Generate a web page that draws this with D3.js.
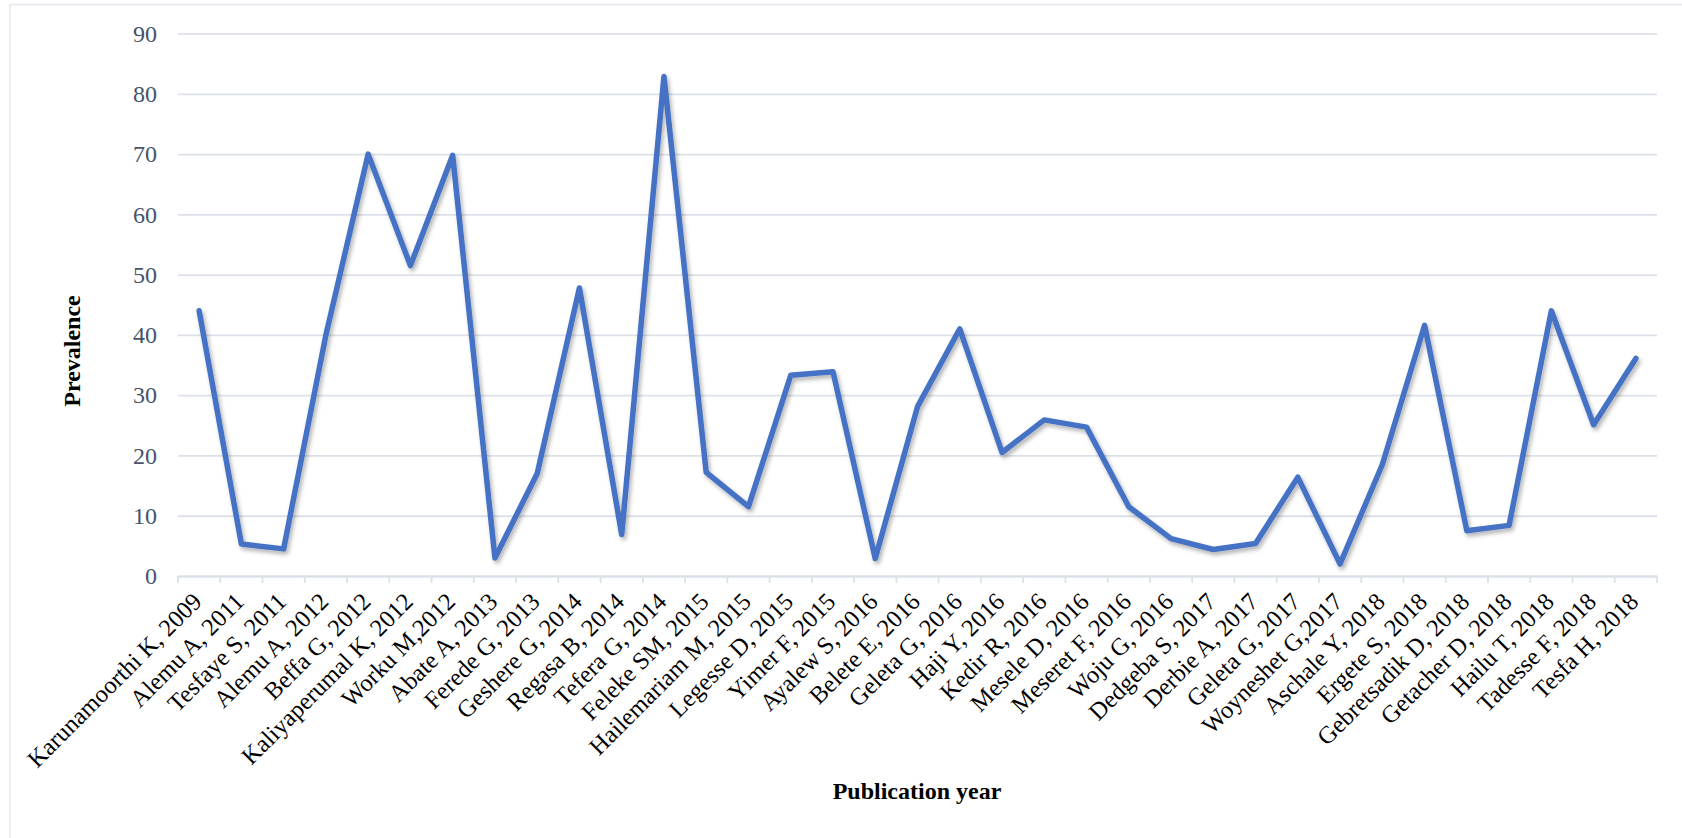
<!DOCTYPE html>
<html>
<head>
<meta charset="utf-8">
<script src="https://cdn.jsdelivr.net/npm/d3@7"></script>
<style>
  html, body { margin: 0; padding: 0; background: #fff; }
  svg { display: block; }
</style>
</head>
<body>
<div id="chart"></div>
<script>
const studies = [
  'Karunamoorthi K, 2009', 'Alemu A, 2011', 'Tesfaye S, 2011', 'Alemu A, 2012',
  'Beffa G, 2012', 'Kaliyaperumal K, 2012', 'Worku M,2012', 'Abate A, 2013',
  'Ferede G, 2013', 'Geshere G, 2014', 'Regasa B, 2014', 'Tefera G, 2014',
  'Feleke SM, 2015', 'Hailemariam M, 2015', 'Legesse D, 2015', 'Yimer F, 2015',
  'Ayalew S, 2016', 'Belete E, 2016', 'Geleta G, 2016', 'Haji Y, 2016',
  'Kedir R, 2016', 'Mesele D, 2016', 'Meseret F, 2016', 'Woju G, 2016',
  'Dedgeba S, 2017', 'Derbie A, 2017', 'Geleta G, 2017', 'Woyneshet G,2017',
  'Aschale Y, 2018', 'Ergete S, 2018', 'Gebretsadik D, 2018', 'Getacher D, 2018',
  'Hailu T, 2018', 'Tadesse F, 2018', 'Tesfa H, 2018',
];

const prevalence = [
  44.0, 5.3, 4.5, 40.0, 70.0, 51.5, 69.8, 3.0, 17.0, 47.8, 6.9, 82.9,
  17.2, 11.5, 33.3, 33.9, 2.9, 28.1, 41.0, 20.5, 25.9, 24.7, 11.5, 6.2,
  4.4, 5.4, 16.4, 2.0, 18.5, 41.6, 7.5, 8.4, 44.0, 25.1, 36.1,
];

const yTicks = [0, 10, 20, 30, 40, 50, 60, 70, 80, 90];

const width = 1682;
const height = 838;
const margin = { top: 33.6, bottom: 262, left: 178, right: 25 };

const BlueLine = '#4472C4';
const GridGray = '#DCE1E9';
const AxisText = '#44546A';
const serif = "'Liberation Serif', 'Times New Roman', serif";

const data = studies.map((s, i) => ({ study: s, value: prevalence[i] }));

const svg = d3
  .select('#chart')
  .append('svg')
  .attr('width', width)
  .attr('height', height);

// chart area border (runs off the right and bottom edges in the original)
svg
  .append('rect')
  .attr('x', 10)
  .attr('y', 4.5)
  .attr('width', width + 20)
  .attr('height', height + 20)
  .attr('fill', 'none')
  .attr('stroke', '#E3E7EE')
  .attr('stroke-width', 1.5);

const defs = svg.append('defs');
defs
  .append('filter')
  .attr('id', 'shadow')
  .attr('x', '-5%')
  .attr('y', '-5%')
  .attr('width', '110%')
  .attr('height', '110%')
  .append('feDropShadow')
  .attr('dx', 2)
  .attr('dy', 3)
  .attr('stdDeviation', 2)
  .attr('flood-color', '#000')
  .attr('flood-opacity', 0.3);

const xScale = d3
  .scaleBand()
  .domain(studies)
  .range([margin.left, width - margin.right])
  .padding(0);

const yScale = d3
  .scaleLinear()
  .domain([0, 90])
  .range([height - margin.bottom, margin.top]);

// gridlines + y tick labels
const yAxis = svg
  .append('g')
  .attr('transform', `translate(${margin.left},0)`)
  .call(
    d3
      .axisLeft(yScale)
      .tickValues(yTicks)
      .tickSize(-(width - margin.left - margin.right))
      .tickPadding(21)
  );
yAxis.select('.domain').remove();
yAxis
  .selectAll('line')
  .attr('stroke', GridGray)
  .attr('stroke-width', 1.8);
yAxis
  .selectAll('text')
  .attr('fill', AxisText)
  .style('font-family', serif)
  .style('font-size', '24px');

// x axis: labels at centres, ticks at category boundaries
const x0 = yScale(0);
const xAxis = svg
  .append('g')
  .attr('transform', `translate(0,${x0})`)
  .call(d3.axisBottom(xScale).tickSize(0).tickSizeOuter(0));
xAxis.select('.domain').attr('stroke', GridGray).attr('stroke-width', 1.8);
xAxis
  .selectAll('text')
  .attr('fill', '#000')
  .style('font-family', serif)
  .style('font-size', '24.5px')
  .attr('text-anchor', 'end')
  .attr('y', 0)
  .attr('dy', 0)
  .attr('transform', 'translate(4,27) rotate(-45)');

const bounds = studies.map((s) => xScale(s)).concat([xScale.range()[1]]);
svg
  .append('g')
  .selectAll('line')
  .data(bounds)
  .join('line')
  .attr('x1', (d) => d)
  .attr('x2', (d) => d)
  .attr('y1', x0)
  .attr('y2', x0 + 7)
  .attr('stroke', GridGray)
  .attr('stroke-width', 1.8);

// series line
const line = d3
  .line()
  .x((d) => xScale(d.study) + xScale.bandwidth() / 2)
  .y((d) => yScale(d.value));

svg
  .append('path')
  .datum(data)
  .attr('d', line)
  .attr('fill', 'none')
  .attr('stroke', BlueLine)
  .attr('stroke-width', 5.5)
  .attr('stroke-linejoin', 'round')
  .attr('stroke-linecap', 'round')
  .attr('filter', 'url(#shadow)');

// axis titles
svg
  .append('text')
  .attr('transform', 'translate(80,351) rotate(-90)')
  .attr('text-anchor', 'middle')
  .style('font-family', serif)
  .style('font-size', '24px')
  .style('font-weight', 700)
  .attr('fill', '#000')
  .text('Prevalence');

svg
  .append('text')
  .attr('x', 917)
  .attr('y', 799)
  .attr('text-anchor', 'middle')
  .style('font-family', serif)
  .style('font-size', '24px')
  .style('font-weight', 700)
  .attr('fill', '#000')
  .text('Publication year');
</script>
</body>
</html>
